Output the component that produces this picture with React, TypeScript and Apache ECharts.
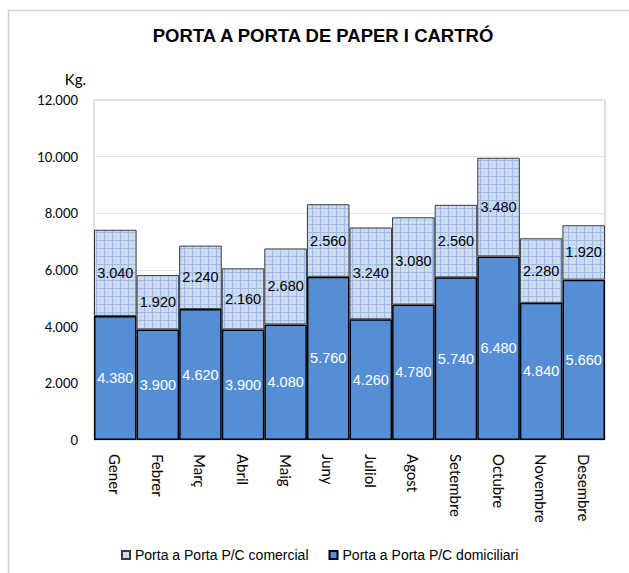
import React, { useEffect, useRef } from "react";
import * as echarts from "echarts";

const months = ["Gener", "Febrer", "Març", "Abril", "Maig", "Juny", "Juliol", "Agost", "Setembre", "Octubre", "Novembre", "Desembre"];
const domiciliari = [4380, 3900, 4620, 3900, 4080, 5760, 4260, 4780, 5740, 6480, 4840, 5660];
const comercial = [3040, 1920, 2240, 2160, 2680, 2560, 3240, 3080, 2560, 3480, 2280, 1920];
const yTicks = [0, 2000, 4000, 6000, 8000, 10000, 12000];

const fmt = (v: number) => String(Math.round(v)).replace(/\B(?=(\d{3})+(?!\d))/g, ".");

function makePattern() {
  const c = document.createElement("canvas");
  c.width = 8;
  c.height = 8;
  const ctx = c.getContext("2d")!;
  ctx.fillStyle = "#c8daf2";
  ctx.fillRect(0, 0, 8, 8);
  ctx.fillStyle = "#e6eefa";
  ctx.fillRect(2, 2, 1, 1);
  ctx.fillRect(6, 6, 1, 1);
  ctx.fillRect(6, 2, 1, 1);
  ctx.fillRect(2, 6, 1, 1);
  ctx.fillStyle = "#9dbbe6";
  ctx.fillRect(0, 0, 8, 1);
  ctx.fillRect(0, 0, 1, 8);
  return c;
}

export default function App() {
  const ref = useRef<HTMLDivElement>(null);
  useEffect(() => {
    const chart = echarts.init(ref.current!, null, { renderer: "svg" });
    const pattern = { image: makePattern(), repeat: "repeat" as const };
    chart.setOption({
      animation: false,
      backgroundColor: "#ffffff",
      title: {
        text: "PORTA A PORTA DE PAPER I CARTRÓ",
        left: 318,
        textAlign: "center",
        top: 21,
        textStyle: { fontFamily: "Liberation Sans", fontWeight: "bold", fontSize: 18.5, color: "#000" },
      },
      graphic: [
        {
          type: "rect",
          shape: { x: 8.5, y: 10.5, width: 700, height: 700 },
          style: { fill: "none", stroke: "#d0d0d0", lineWidth: 1.5 },
          silent: true,
        },
      ],
      legend: {
        data: ["Porta a Porta P/C comercial", "Porta a Porta P/C domiciliari"],
        left: 121,
        top: 548,
        padding: 0,
        itemWidth: 8,
        itemHeight: 8,
        itemGap: 20,
        icon: "rect",
        textStyle: { fontFamily: "Liberation Sans", fontSize: 14, color: "#000" },
      },
      grid: {
        left: 94,
        right: 24,
        top: 100,
        bottom: 133,
        show: true,
        borderColor: "#bfbfbf",
        borderWidth: 1,
      },
      xAxis: {
        type: "category",
        data: months,
        axisTick: { show: false },
        axisLine: { show: false },
        axisLabel: {
          rotate: -90,
          margin: 14,
          fontFamily: "Lato",
          fontSize: 15,
          color: "#000",
          interval: 0,
        },
      },
      yAxis: {
        type: "value",
        min: 0,
        max: 12000,
        interval: 2000,
        name: "Kg.",
        nameLocation: "end",
        nameGap: 14,
        nameTextStyle: { fontFamily: "Lato", fontSize: 15, color: "#000", align: "right", padding: [0, 8, 0, 0] },
        axisLine: { show: false },
        axisTick: { show: false },
        splitLine: { lineStyle: { color: "#e3e3e3", width: 1 } },
        axisLabel: {
          margin: 16,
          fontFamily: "Lato",
          fontSize: 13,
          color: "#000",
          formatter: (v: number) => (yTicks.includes(v) ? fmt(v) : ""),
        },
      },
      series: [
        {
          name: "Porta a Porta P/C domiciliari",
          type: "bar",
          stack: "total",
          data: domiciliari,
          barCategoryGap: "0%",
          itemStyle: { color: "#558ed5", borderColor: "#000", borderWidth: 1.5 },
          label: {
            show: true,
            position: "inside",
            color: "#fff",
            fontFamily: "Liberation Sans",
            fontSize: 14.5,
            formatter: (p: any) => fmt(p.value),
          },
        },
        {
          name: "Porta a Porta P/C comercial",
          type: "bar",
          stack: "total",
          data: comercial,
          barCategoryGap: "0%",
          itemStyle: { color: pattern, borderColor: "#3a3a3a", borderWidth: 1 },
          label: {
            show: true,
            position: "inside",
            color: "#000",
            fontFamily: "Liberation Sans",
            fontSize: 14.5,
            formatter: (p: any) => fmt(p.value),
          },
        },
      ],
    });
    return () => chart.dispose();
  }, []);
  return <div ref={ref} style={{ position: "fixed", left: 0, top: 0, width: 629, height: 573 }} />;
}
